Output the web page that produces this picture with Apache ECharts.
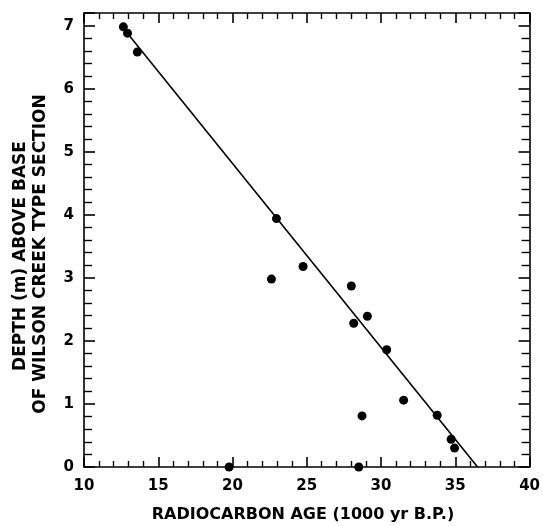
<!DOCTYPE html>
<html>
<head>
<meta charset="utf-8">
<script src="https://cdn.jsdelivr.net/npm/echarts@6/dist/echarts.min.js"></script>
<style>html,body{margin:0;padding:0;background:#fff}#c{width:543px;height:526px}</style>
</head>
<body>
<div id="c"></div>
<script>
// Radiocarbon age (1000 yr B.P.) vs depth (m)
const ageValues = [12.65, 12.93, 13.59, 22.96, 24.75, 22.62, 28.0, 28.16, 29.08, 30.38, 31.52, 28.72, 33.78, 34.72, 34.95, 28.5, 19.77];
const depthValues = [6.98, 6.88, 6.58, 3.94, 3.18, 2.98, 2.87, 2.28, 2.39, 1.86, 1.06, 0.81, 0.82, 0.44, 0.30, 0.0, 0.0];
const fitAges = [12.5, 36.5];
const fitDepths = [7.0, 0.0];
const xTitle = 'RADIOCARBON AGE (1000 yr B.P.)';
const yTitle1 = 'DEPTH (m) ABOVE BASE';
const yTitle2 = 'OF WILSON CREEK TYPE SECTION';

const points = ageValues.map((a, i) => [a, depthValues[i]]);
const fit = fitAges.map((a, i) => [a, fitDepths[i]]);
const font = 'DejaVu Sans';
const ink = '#000';

function xAx(pos, show) {
  return {
    type: 'value', position: pos, min: 10, max: 40, interval: 5,
    axisLine: {show: true, onZero: false, lineStyle: {color: ink, width: 1.6}},
    axisTick: {show: true, inside: true, length: 10, lineStyle: {color: ink, width: 1.6}},
    minorTick: {show: true, splitNumber: 5, length: 6, lineStyle: {color: ink, width: 1.4}},
    axisLabel: {show: show, color: ink, fontFamily: font, fontWeight: 'bold', fontSize: 15, margin: 12},
    splitLine: {show: false}
  };
}
function yAx(pos, show) {
  return {
    type: 'value', position: pos, min: 0, max: 7.2, interval: 1,
    axisLine: {show: true, onZero: false, lineStyle: {color: ink, width: 1.6}},
    axisTick: {show: true, inside: true, length: 11, lineStyle: {color: ink, width: 1.6}},
    minorTick: {show: true, splitNumber: 5, length: 8, lineStyle: {color: ink, width: 1.4}},
    axisLabel: {show: show, color: ink, fontFamily: font, fontWeight: 'bold', fontSize: 15, margin: 10, showMaxLabel: false,
      formatter: v => (Math.abs(v - Math.round(v)) < 1e-6 ? String(Math.round(v)) : '')},
    splitLine: {show: false}
  };
}

const chart = echarts.init(document.getElementById('c'), null, {renderer: 'canvas'});
chart.setOption({
  animation: false,
  backgroundColor: '#fff',
  grid: {left: 84, right: 13, top: 13, bottom: 59},
  xAxis: [xAx('bottom', true), xAx('top', false)],
  yAxis: [yAx('left', true), yAx('right', false)],
  graphic: [
    {type: 'text', x: 303, y: 515,
      style: {text: xTitle, font: 'bold 16px "DejaVu Sans"', fill: ink, align: 'center', verticalAlign: 'middle'}},
    {type: 'text', x: 21, y: 256, rotation: Math.PI / 2,
      style: {text: yTitle1, font: 'bold 17px "DejaVu Sans"', fill: ink, align: 'center', verticalAlign: 'middle'}},
    {type: 'text', x: 41, y: 254, rotation: Math.PI / 2,
      style: {text: yTitle2, font: 'bold 17px "DejaVu Sans"', fill: ink, align: 'center', verticalAlign: 'middle'}}
  ],
  series: [
    {type: 'line', data: fit, symbol: 'none', lineStyle: {color: ink, width: 1.6}, silent: true},
    {type: 'scatter', data: points, symbol: 'circle', symbolSize: 9, clip: false,
      itemStyle: {color: ink, opacity: 1}}
  ]
});
</script>
</body>
</html>
